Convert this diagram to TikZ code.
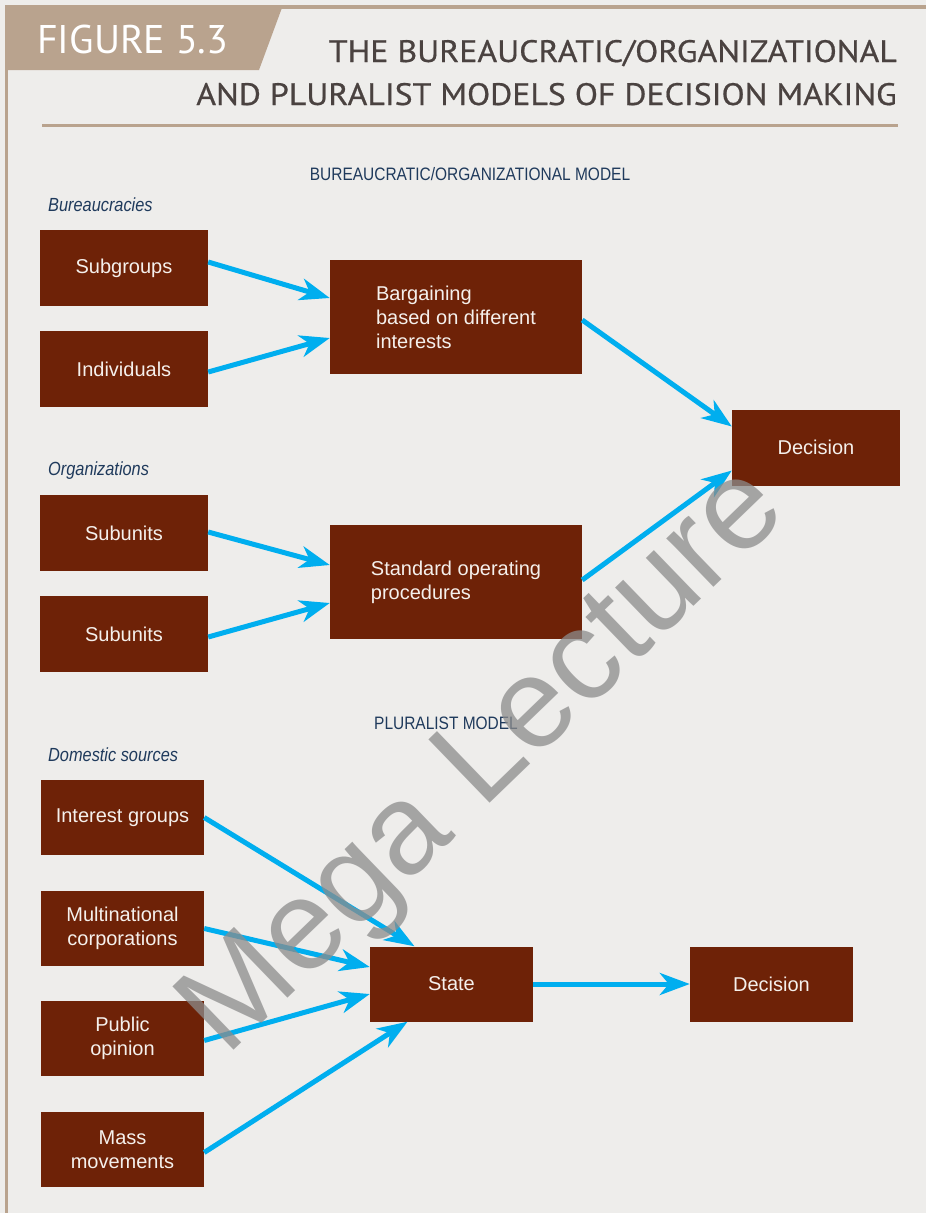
\documentclass[tikz,border=0pt]{standalone}
\usepackage{fontspec}
\setmainfont{Liberation Sans}
\newfontfamily\condfont{Liberation Sans}[FakeStretch=0.86]
\newfontfamily\headfont{PT Sans}
\newfontfamily\titlefont{PT Sans}[FakeStretch=1.09,FakeBold=0.6]
\usetikzlibrary{arrows.meta,calc}
\definecolor{bgc}{HTML}{EEEDEB}
\definecolor{tanc}{HTML}{B9A38E}
\definecolor{headc}{HTML}{4A4240}
\definecolor{navyc}{HTML}{1F3A5C}
\definecolor{brownc}{HTML}{6E2207}
\definecolor{cyanc}{HTML}{00AEEF}
\definecolor{boxtxt}{HTML}{F5F0EC}
\tikzset{
  box/.style={fill=brownc, text=boxtxt, font=\fontsize{20}{24}\selectfont, inner sep=0pt, align=center},
  smallbox/.style={box, minimum width=168pt, minimum height=76pt},
  midbox/.style={box, minimum width=252pt, minimum height=114pt, align=left},
  plbox/.style={box, minimum width=163pt, minimum height=75pt},
  arr/.style={draw=cyanc, line width=5pt, -{Stealth[length=30pt,width=22pt,inset=9pt]}},
  sect/.style={text=navyc, font=\condfont\fontsize{18}{20}\selectfont, inner sep=0pt},
  grp/.style={text=navyc, font=\condfont\itshape\fontsize{19}{21}\selectfont, inner sep=0pt, anchor=base west},
  title/.style={text=headc, font=\titlefont\fontsize{31}{33}\selectfont, anchor=base east, inner sep=0pt},
}
\begin{document}
\begin{tikzpicture}[x=1pt,y=-1pt]
\useasboundingbox (0,0) rectangle (926,1213);
\fill[bgc] (0,0) rectangle (926,1213);
% frame
\fill[tanc] (5,5) rectangle (926,8.5);
\fill[tanc] (5,5) rectangle (8,1213);
\fill[tanc] (5,5) -- (283,5) -- (259,70) -- (5,70) -- cycle;
\node[text=white, font=\headfont\fontsize{40}{42}\selectfont, anchor=base west, inner sep=0pt] (fig) at (37,53) {FIGURE 5.3};
\node[title] (t1) at (897,62) {THE BUREAUCRATIC/ORGANIZATIONAL};
\node[title] (t2) at (897,105) {AND PLURALIST MODELS OF DECISION MAKING};
\fill[tanc] (42,124) rectangle (898,126.5);

% section labels
\node[sect, anchor=base] (s1) at (470,180) {BUREAUCRATIC/ORGANIZATIONAL MODEL};
\node[grp] (g1) at (48,211) {Bureaucracies};
\node[grp] (g2) at (48,475) {Organizations};
\node[sect, anchor=base] (s2) at (446,729) {PLURALIST MODEL};
\node[grp] (g3) at (48,761) {Domestic sources};

% boxes
\node[smallbox] (sub) at (124,268) {Subgroups};
\node[smallbox] (ind) at (124,369) {Individuals};
\node[midbox] (barg) at (456,317) {Bargaining\\based on different\\interests};
\node[smallbox] (dec1) at (816,447.5) {Decision};
\node[smallbox] (su1) at (124,533) {Subunits};
\node[smallbox] (su2) at (124,634) {Subunits};
\node[midbox] (sop) at (456,582) {Standard operating\\procedures};

\node[plbox] (ig) at (122.5,817.5) {Interest groups};
\node[plbox] (mnc) at (122.5,928.5) {Multinational\\corporations};
\node[plbox] (po) at (122.5,1038.5) {Public\\opinion};
\node[plbox] (mm) at (122.5,1149.5) {Mass\\movements};
\node[plbox] (state) at (451.5,984) {State};
\node[plbox] (dec2) at (771.5,984) {Decision};

% arrows
\draw[arr] ([yshift=6pt]sub.east) -- ([yshift=19pt]barg.west);
\draw[arr] ([yshift=-3pt]ind.east) -- ([yshift=-21pt]barg.west);
\draw[arr] ([yshift=-3pt]barg.east) -- ([yshift=21pt]dec1.west);
\draw[arr] ([yshift=1pt]su1.east) -- ([yshift=17pt]sop.west);
\draw[arr] ([yshift=-3pt]su2.east) -- ([yshift=-21pt]sop.west);
\draw[arr] ([yshift=2pt]sop.east) -- ([yshift=-23pt]dec1.west);

\draw[arr] (ig.east) -- ([xshift=-37pt]state.north);
\draw[arr] (mnc.east) -- ([yshift=17pt]state.west);
\draw[arr] ([yshift=-2pt]po.east) -- ([yshift=-10pt]state.west);
\draw[arr] ([yshift=-3pt]mm.east) -- ([xshift=-44pt]state.south);
\draw[arr] (state.east) -- (dec2.west);

% watermark
\node[text=black!45, opacity=0.75, rotate=44, font=\fontsize{128}{128}\selectfont, inner sep=0pt] (wm) at (487,764) {Mega Lecture};
\end{tikzpicture}
\end{document}
